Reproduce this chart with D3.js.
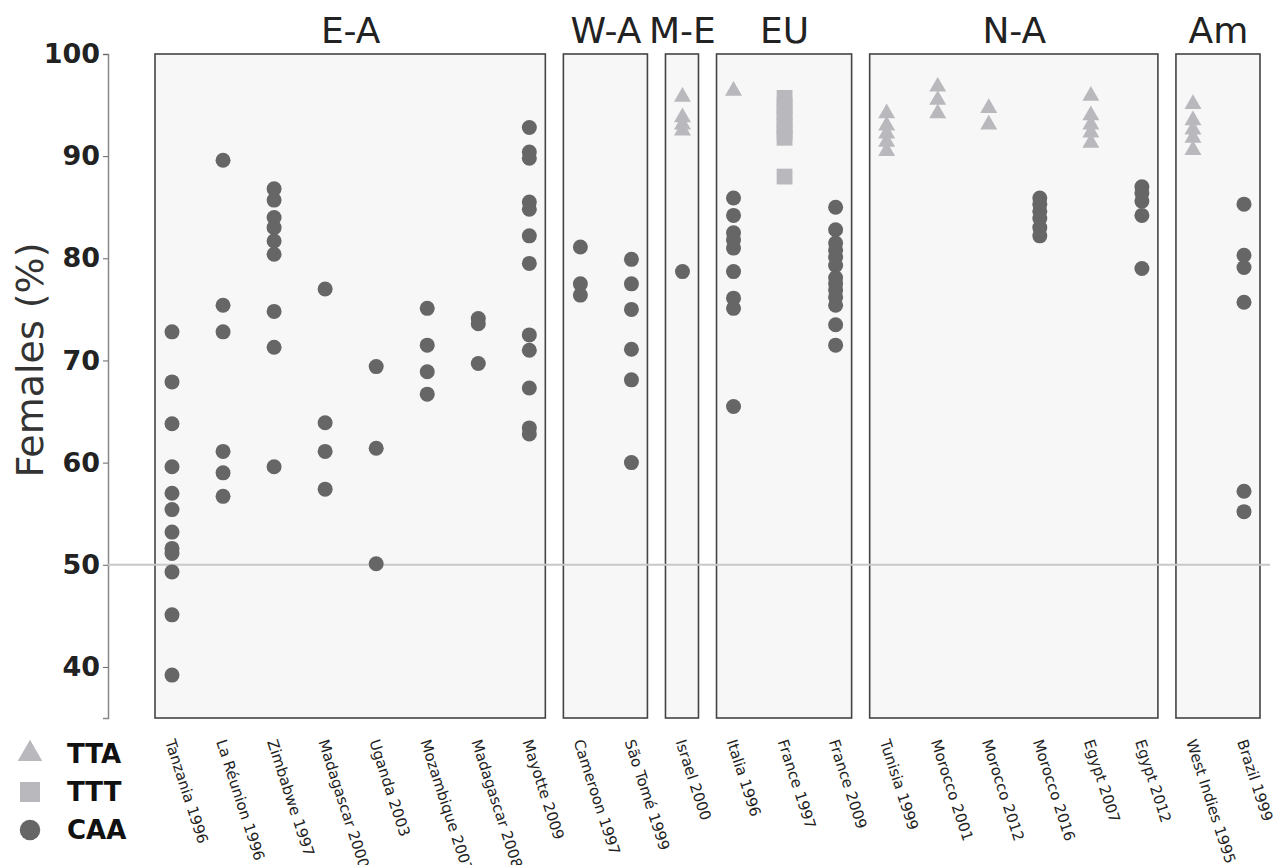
<!DOCTYPE html>
<html>
<head>
<meta charset="utf-8">
<script src="https://cdn.jsdelivr.net/npm/d3@7"></script>
<style>
  body { margin: 0; background: #fff; }
  text { font-family: "DejaVu Sans", sans-serif; }
</style>
</head>
<body>
<div class="dotchart"></div>
<script>
var categories = ["Tanzania 1996", "La Réunion 1996", "Zimbabwe 1997", "Madagascar 2000",
  "Uganda 2003", "Mozambique 2007", "Madagascar 2008", "Mayotte 2009",
  "Cameroon 1997", "São Tomé 1999", "Israel 2000", "Italia 1996", "France 1997",
  "France 2009", "Tunisia 1999", "Morocco 2001", "Morocco 2012", "Morocco 2016",
  "Egypt 2007", "Egypt 2012", "West Indies 1995", "Brazil 1999"];

var groupNames = ["E-A", "W-A", "M-E", "EU", "N-A", "Am"];
var groupSizes = [8, 2, 1, 3, 6, 2];

// CAA (circles), one list per category
var caaValues = [
  [72.8, 67.9, 63.8, 59.6, 57.0, 55.4, 53.2, 51.6, 51.1, 49.3, 45.1, 39.2],
  [89.6, 75.4, 72.8, 61.1, 59.0, 56.7],
  [86.8, 85.7, 84.0, 83.0, 81.7, 80.4, 74.8, 71.3, 59.6],
  [77.0, 63.9, 61.1, 57.4],
  [69.4, 61.4, 50.1],
  [75.1, 71.5, 68.9, 66.7],
  [74.1, 73.6, 69.7],
  [92.8, 90.4, 89.8, 85.5, 84.8, 82.2, 79.5, 72.5, 71.0, 67.3, 63.4, 62.8],
  [81.1, 77.5, 76.4],
  [79.9, 77.5, 75.0, 71.1, 68.1, 60.0],
  [78.7],
  [85.9, 84.2, 82.5, 81.8, 81.0, 78.7, 76.1, 75.1, 65.5],
  [],
  [85.0, 82.8, 81.5, 80.8, 80.1, 79.3, 78.1, 77.5, 76.9, 76.2, 75.4, 73.5, 71.5],
  [], [], [],
  [85.9, 85.3, 84.6, 83.9, 83.0, 82.2],
  [],
  [87.0, 86.4, 85.6, 84.2, 79.0],
  [],
  [85.3, 80.3, 79.1, 75.7, 57.2, 55.2]
];

// TTA (triangles)
var ttaValues = [
  [], [], [], [], [], [], [], [], [], [],
  [95.8, 93.8, 93.1, 92.5],
  [96.4],
  [], [],
  [94.2, 93.0, 92.2, 91.4, 90.5],
  [96.8, 95.5, 94.2],
  [94.7, 93.1],
  [],
  [95.9, 94.0, 93.1, 92.3, 91.3],
  [],
  [95.1, 93.5, 92.6, 91.8, 90.6],
  []
];

// TTT (squares)
var tttValues = [
  [], [], [], [], [], [], [], [], [], [], [], [],
  [95.7, 95.0, 94.3, 93.6, 92.9, 92.3, 91.8, 88.0],
  [], [], [], [], [], [], [], [], []
];

var yTicks = [40, 50, 60, 70, 80, 90, 100];
var legendLabels = ["TTA", "TTT", "CAA"];

var width = 1274, height = 865;
var dark = "#666666", light = "#b9b9bd";

var svg = d3.select(".dotchart").append("svg")
    .attr("width", width)
    .attr("height", height);

var x = d3.scalePoint()
    .domain(categories)
    .range([172, 1244]);

var y = d3.scaleLinear()
    .domain([35, 100])
    .range([718, 54]);

// panels
var start = 0;
var panels = groupNames.map(function (g, i) {
  var p = {name: g, first: categories[start], last: categories[start + groupSizes[i] - 1]};
  start += groupSizes[i];
  return p;
});

svg.selectAll(".panel")
    .data(panels)
  .enter().append("rect")
    .attr("class", "panel")
    .attr("x", function (d) { return x(d.first) - 17; })
    .attr("y", y(100))
    .attr("width", function (d) { return x(d.last) - x(d.first) + 33; })
    .attr("height", y(35) - y(100))
    .style("fill", "#f7f7f7")
    .style("stroke", "#444")
    .style("stroke-width", 1.6);

svg.selectAll(".group-label")
    .data(panels)
  .enter().append("text")
    .attr("class", "group-label")
    .attr("x", function (d) { return (x(d.first) + x(d.last)) / 2; })
    .attr("y", 43)
    .style("text-anchor", "middle")
    .style("font-size", "36px")
    .style("fill", "#222")
    .text(function (d) { return d.name; });

// y axis
var yAxis = d3.axisLeft(y)
    .tickValues(yTicks)
    .tickSize(5)
    .tickPadding(3);

var gy = svg.append("g")
    .attr("class", "y axis")
    .attr("transform", "translate(108,0)")
    .call(yAxis);

gy.select(".domain").style("stroke", "#888").style("stroke-width", 1.5);
gy.selectAll(".tick line").style("stroke", "#666");
gy.selectAll(".tick text")
    .style("font-family", "'DejaVu Sans', sans-serif")
    .style("font-size", "27px")
    .style("font-weight", "bold")
    .style("fill", "#222");

svg.append("text")
    .attr("transform", "translate(43,360) rotate(-90)")
    .style("text-anchor", "middle")
    .style("font-size", "38px")
    .style("fill", "#333")
    .text("Females (%)");

// 50% reference line
svg.append("line")
    .attr("x1", 108)
    .attr("x2", width - 4)
    .attr("y1", y(50))
    .attr("y2", y(50))
    .style("stroke", "#c8c8c8")
    .style("stroke-width", 2);

// points
function flatten(values) {
  var out = [];
  values.forEach(function (list, i) {
    list.forEach(function (v) { out.push({cat: categories[i], value: v}); });
  });
  return out;
}

var triangle = d3.symbol().type(d3.symbolTriangle).size(125);
var square = d3.symbol().type(d3.symbolSquare).size(250);

svg.selectAll(".ttt")
    .data(flatten(tttValues))
  .enter().append("path")
    .attr("class", "ttt")
    .attr("transform", function (d) { return "translate(" + x(d.cat) + "," + y(d.value) + ")"; })
    .attr("d", square)
    .style("fill", light);

svg.selectAll(".tta")
    .data(flatten(ttaValues))
  .enter().append("path")
    .attr("class", "tta")
    .attr("transform", function (d) { return "translate(" + x(d.cat) + "," + y(d.value) + ")"; })
    .attr("d", triangle)
    .style("fill", light);

svg.selectAll(".caa")
    .data(flatten(caaValues))
  .enter().append("circle")
    .attr("class", "caa")
    .attr("cx", function (d) { return x(d.cat); })
    .attr("cy", function (d) { return y(d.value); })
    .attr("r", 7.5)
    .style("fill", dark);

// category labels
svg.selectAll(".cat-label")
    .data(categories)
  .enter().append("text")
    .attr("class", "cat-label")
    .attr("transform", function (d) { return "translate(" + (x(d) - 2) + ",740) rotate(72)"; })
    .attr("dy", "0.35em")
    .style("font-size", "15px")
    .style("fill", "#222")
    .text(function (d) { return d; });

// legend
var legend = svg.selectAll(".legend")
    .data(legendLabels)
  .enter().append("g")
    .attr("class", "legend")
    .attr("transform", function (d, i) { return "translate(30," + (754 + i * 38) + ")"; });

legend.append("path")
    .attr("d", function (d, i) {
      if (i === 0) return d3.symbol().type(d3.symbolTriangle).size(260)();
      if (i === 1) return d3.symbol().type(d3.symbolSquare).size(400)();
      return d3.symbol().type(d3.symbolCircle).size(330)();
    })
    .style("fill", function (d, i) { return i === 2 ? dark : light; });

legend.append("text")
    .attr("x", 37)
    .attr("dy", "0.36em")
    .style("font-size", "26px")
    .style("font-weight", "bold")
    .style("fill", "#111")
    .text(function (d) { return d; });
</script>
</body>
</html>
